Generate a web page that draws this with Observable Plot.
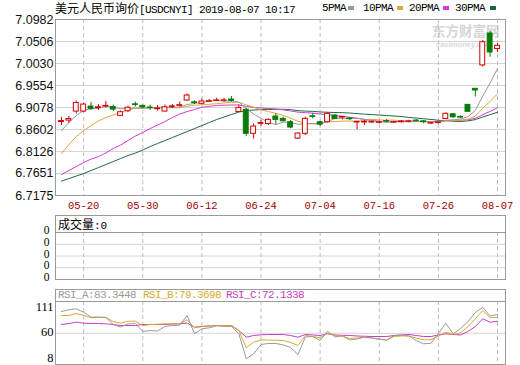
<!DOCTYPE html>
<html><head><meta charset="utf-8">
<script src="https://cdn.jsdelivr.net/npm/d3@7"></script>
<script src="https://cdn.jsdelivr.net/npm/@observablehq/plot@0.6"></script>
<style>
body{margin:0;background:#fff;}
#wrap{position:relative;width:520px;height:365px;overflow:hidden;background:#fff;}
.abs{position:absolute;white-space:nowrap;}
.mono{font-family:"Liberation Mono",monospace;font-size:10px;}
.cjk{font-family:"Noto Sans CJK SC",sans-serif;font-size:12px;}
.hdr{position:absolute;box-sizing:border-box;border:1px solid #999;background:#fff;}
svg{position:absolute;left:0;}
</style></head><body><div id="wrap"></div>
<script>
const dates = ["05-15","05-16","05-17","05-20","05-21","05-22","05-23","05-24","05-27","05-28",
"05-29","05-30","05-31","06-03","06-04","06-05","06-06","06-10","06-11","06-12",
"06-13","06-14","06-17","06-18","06-19","06-20","06-21","06-24","06-25","06-26",
"06-27","06-28","07-01","07-02","07-03","07-04","07-05","07-08","07-09","07-10",
"07-11","07-12","07-15","07-16","07-17","07-18","07-19","07-22","07-23","07-24",
"07-25","07-26","07-29","07-30","07-31","08-01","08-02","08-05","08-06","08-07"];
const open = [6.8764,6.8796,6.8991,6.8991,6.9099,6.9067,6.9099,6.9088,6.8898,6.8998,
6.9147,6.9114,6.9078,6.9041,6.8991,6.9088,6.9114,6.9229,6.9190,6.9158,
6.9203,6.9223,6.9223,6.9251,6.8980,6.9028,6.8509,6.8725,6.8721,6.8883,
6.8833,6.8760,6.8407,6.8509,6.8889,6.8760,6.8760,6.8905,6.8861,6.8840,
6.8754,6.8754,6.8754,6.8747,6.8785,6.8754,6.8764,6.8768,6.8796,6.8779,
6.8731,6.8742,6.8829,6.8932,6.8876,6.9136,6.9483,6.9989,7.0679,7.0344];
const high = [6.8861,6.8883,6.9218,6.9175,6.9192,6.9142,6.9207,6.9132,6.9002,6.9110,
6.9197,6.9132,6.9132,6.9121,6.9132,6.9142,6.9197,6.9374,6.9223,6.9261,
6.9251,6.9279,6.9279,6.9316,6.9132,6.9056,6.8725,6.8796,6.8833,6.8941,
6.8867,6.8796,6.8528,6.8867,6.8954,6.8781,6.8963,6.8915,6.8883,6.8861,
6.8775,6.8796,6.8785,6.8785,6.8818,6.8781,6.8796,6.8803,6.8818,6.8796,
6.8754,6.8775,6.8963,6.8950,6.8893,6.9142,6.9489,7.0528,7.0722,7.0463];
const low = [6.8688,6.8731,6.8937,6.8969,6.9013,6.9013,6.9067,6.8991,6.8883,6.8969,
6.9088,6.9045,6.9013,6.9002,6.8980,6.9056,6.9088,6.9207,6.9142,6.9142,
6.9186,6.9207,6.9197,6.9192,6.8976,6.8450,6.8397,6.8677,6.8688,6.8710,
6.8768,6.8617,6.8386,6.8472,6.8833,6.8667,6.8742,6.8825,6.8811,6.8796,
6.8595,6.8688,6.8731,6.8721,6.8754,6.8731,6.8742,6.8747,6.8764,6.8731,
6.8710,6.8716,6.8818,6.8840,6.8840,6.8976,6.9305,6.9952,7.0166,7.0268];
const close = [6.8785,6.8829,6.9175,6.9142,6.9049,6.9084,6.9114,6.9034,6.8976,6.9073,
6.9134,6.9082,6.9067,6.9056,6.9084,6.9103,6.9129,6.9337,6.9177,6.9207,
6.9216,6.9233,6.9233,6.9223,6.9067,6.8509,6.8667,6.8742,6.8811,6.8811,
6.8781,6.8645,6.8515,6.8833,6.8876,6.8710,6.8941,6.8833,6.8876,6.8825,
6.8768,6.8768,6.8764,6.8760,6.8775,6.8764,6.8775,6.8779,6.8785,6.8764,
6.8742,6.8754,6.8941,6.8867,6.8861,6.8985,6.9446,7.0491,7.0268,7.0413];
const ma5 = [6.8580,6.8753,6.8904,6.9013,6.9056,6.9056,6.9112,6.9084,6.9052,6.9056,
6.9067,6.9060,6.9067,6.9082,6.9084,6.9077,6.9088,6.9142,6.9166,6.9190,
6.9214,6.9233,6.9214,6.9222,6.9194,6.9054,6.8939,6.8842,6.8759,6.8708,
6.8762,6.8757,6.8716,6.8721,6.8734,6.8718,6.8779,6.8840,6.8848,6.8837,
6.8848,6.8814,6.8801,6.8777,6.8766,6.8766,6.8768,6.8770,6.8775,6.8773,
6.8768,6.8764,6.8796,6.8811,6.8831,6.8879,6.9017,6.9326,6.9610,6.9919];
const ma10 = [6.8082,6.8277,6.8450,6.8580,6.8688,6.8786,6.8861,6.8915,6.8969,6.9026,
6.9060,6.9086,6.9075,6.9067,6.9071,6.9073,6.9073,6.9104,6.9125,6.9138,
6.9147,6.9162,6.9177,6.9194,6.9192,6.9134,6.9086,6.9028,6.8991,6.8952,
6.8907,6.8848,6.8779,6.8740,6.8721,6.8740,6.8768,6.8777,6.8783,6.8786,
6.8783,6.8796,6.8820,6.8811,6.8803,6.8807,6.8790,6.8786,6.8777,6.8770,
6.8768,6.8766,6.8783,6.8794,6.8803,6.8824,6.8892,6.9062,6.9209,6.9376];
const ma20 = [6.7628,6.7715,6.7801,6.7888,6.7963,6.8017,6.8093,6.8191,6.8266,6.8364,
6.8461,6.8537,6.8623,6.8699,6.8775,6.8861,6.8937,6.8991,6.9034,6.9082,
6.9104,6.9123,6.9127,6.9132,6.9132,6.9104,6.9080,6.9067,6.9058,6.9045,
6.9028,6.9004,6.8978,6.8967,6.8956,6.8937,6.8928,6.8902,6.8887,6.8868,
6.8846,6.8822,6.8798,6.8777,6.8762,6.8775,6.8779,6.8781,6.8779,6.8777,
6.8775,6.8781,6.8801,6.8803,6.8803,6.8816,6.8842,6.8924,6.8993,6.9073];
const ma30 = [6.7487,6.7541,6.7596,6.7650,6.7715,6.7779,6.7844,6.7909,6.7974,6.8039,
6.8093,6.8158,6.8234,6.8299,6.8364,6.8428,6.8493,6.8558,6.8623,6.8688,
6.8753,6.8818,6.8872,6.8926,6.8980,6.9013,6.9023,6.9034,6.9034,6.9039,
6.9039,6.9032,6.9011,6.9000,6.8995,6.8982,6.8976,6.8969,6.8967,6.8959,
6.8946,6.8935,6.8926,6.8915,6.8905,6.8894,6.8883,6.8863,6.8850,6.8835,
6.8820,6.8803,6.8794,6.8781,6.8775,6.8790,6.8816,6.8874,6.8924,6.8976];
const rsiA = [103.6,107,109,102.2,92.2,92.6,91.6,77.5,72.5,78.9,
79.5,63.5,65.5,64.5,73.5,75.5,76.1,95.6,58.9,68.9,
70.9,74.9,73.5,73.5,58.9,8.8,18.8,37.5,39.5,39.5,
36.5,31.5,17.4,52.5,53.5,45.5,64.1,52.5,55.5,46.5,
48.5,52.1,50.5,48.5,46.5,55.5,56.5,54.5,45.5,38.9,
40.1,59.5,80.1,58.9,69.5,83.5,101.6,112.2,94.6,97.6];
const rsiB = [95.6,95.6,99.6,95.6,91,91.6,91.6,83.5,80.1,84.1,
84.1,75.5,77.5,78.1,78.9,78.9,78.9,87,70.9,73.5,
74.9,75.5,75.5,75.5,65.5,30.9,42.1,46.5,46.5,46.1,
45.5,41.5,35.5,55.5,53.5,50.9,60.1,55.5,53.5,49.5,
50.5,52.1,50.5,47.5,46.5,53.5,54.5,54.5,50.5,46.9,
46.9,54.5,62.1,57.5,60.5,73.5,89,105.6,91,92.2];
const rsiC = [77.5,79.5,82.1,80.1,79.5,79.5,78.9,77.5,75.5,75.5,
75.5,77.5,77.5,77.5,77.5,78.5,78.9,80.5,72.1,73.5,
74.5,75.5,75.5,75.5,65.5,52.1,55.5,56.9,57.5,57.5,
57.5,55.5,52.1,57.5,56.5,55.5,58.9,56.5,55.9,55.5,
54.5,53.9,53.5,53.5,53.5,55.5,56.5,57.5,55.5,53.5,
53.5,56.5,58.9,57.5,56.5,63.5,73.5,89,82.1,84.1];
const priceTicks = [7.0982,7.0506,7.0030,6.9554,6.9078,6.8602,6.8126,6.7651,6.7175];
const dateTicks = ["05-20","05-30","06-12","06-24","07-04","07-16","07-26","08-07"];
const rsiTicks = [111,60,8];
const volTicks = [0,1,2,3,4];
const volLabels = ["0","0","0","0","0"];
const titleCN = "美元人民币询价";
const titleEN = "[USDCNYI] 2019-08-07 10:17";
const maNames = ["5PMA","10PMA","20PMA","30PMA"];
const rsiHeader = ["RSI_A:83.3448","RSI_B:79.3698","RSI_C:72.1338"];

const RED = "#d60000", GREEN = "#0a7a0a";
const MA_COL = ["#999999","#e0a838","#d23cd2","#1d6a42"];
const RSI_COL = ["#9a9a9a","#d8aa30","#c63cc6"];
const GRID = "#d4d4d4", VGRID = "#bdbdbd", FRAME = "#9a9a9a";
const xDomain = [-0.81, 60.08];
const tickIdx = dateTicks.map(t => dates.indexOf(t));
const candles = dates.map((d, i) => ({i, o: open[i], h: high[i], l: low[i], c: close[i]}));
const up = d => d.c >= d.o;
const series = arr => arr.map((v, i) => ({i, v}));
const svgStyle = {background: "transparent", overflow: "visible"};

const wrap = document.getElementById("wrap");

// watermark
const wm = document.createElement("div");
wm.className = "abs";
wm.style.cssText = "left:432px;top:23px;color:#d6d6d6;font-family:'Noto Sans CJK SC';font-weight:bold;font-size:13.5px;line-height:14px;";
wm.textContent = "东方财富网";
wrap.appendChild(wm);
const wm2 = document.createElement("div");
wm2.className = "abs";
wm2.style.cssText = "left:436px;top:41px;color:#d8d8d8;font-family:'Liberation Sans';font-weight:bold;font-style:italic;font-size:7.5px;line-height:8px;";
wm2.textContent = "eastmoney.com";
wrap.appendChild(wm2);

const main = Plot.plot({
  width: 520, height: 212, marginLeft: 55, marginRight: 15, marginTop: 19, marginBottom: 17,
  style: svgStyle,
  x: {type: "linear", domain: xDomain},
  y: {domain: [6.7175, 7.0982]},
  color: {type: "identity"},
  marks: [
    Plot.gridY(priceTicks, {stroke: GRID, strokeOpacity: 1}),
    Plot.gridX(tickIdx, {stroke: VGRID, strokeOpacity: 1, strokeDasharray: "4,3"}),
    Plot.axisY(priceTicks, {tickSize: 0, tickPadding: 2, tickFormat: d => d.toFixed(4), fontSize: 12.5, fontFamily: "Liberation Sans", fill: "#111", label: null}),
    Plot.axisX(tickIdx, {tickSize: 0, tickPadding: 6, tickFormat: i => dates[i], fill: "#a00000", fontSize: 10.5, fontFamily: "Liberation Mono", label: null}),
    Plot.line(series(ma30), {x: "i", y: "v", stroke: MA_COL[3], strokeWidth: 1}),
    Plot.line(series(ma20), {x: "i", y: "v", stroke: MA_COL[2], strokeWidth: 1}),
    Plot.line(series(ma10), {x: "i", y: "v", stroke: MA_COL[1], strokeWidth: 1}),
    Plot.line(series(ma5), {x: "i", y: "v", stroke: MA_COL[0], strokeWidth: 1}),
    Plot.ruleX(candles, {x: "i", y1: "l", y2: "h", stroke: d => up(d) ? RED : GREEN}),
    Plot.rect(candles, {x1: d => d.i - 0.33, x2: d => d.i + 0.33, y1: "o", y2: "c",
      fill: d => up(d) ? "#ffffff" : GREEN, stroke: d => up(d) ? RED : GREEN}),
    Plot.frame({stroke: FRAME})
  ]
});
main.style.top = "0px";
wrap.appendChild(main);

const vol = Plot.plot({
  width: 520, height: 59, marginLeft: 55, marginRight: 15, marginTop: 11, marginBottom: 1,
  style: svgStyle,
  x: {type: "linear", domain: xDomain, axis: null},
  y: {domain: [0, 4]},
  marks: [
    Plot.gridY([1, 2, 3], {stroke: GRID, strokeOpacity: 1}),
    Plot.gridX(tickIdx, {stroke: VGRID, strokeOpacity: 1, strokeDasharray: "4,3"}),
    Plot.axisY(volTicks, {tickSize: 0, tickPadding: 6, tickFormat: (d, k) => volLabels[k], dy: -2, fontSize: 11.5, fontFamily: "Liberation Serif", fill: "#000", label: null}),
    Plot.frame({stroke: FRAME})
  ]
});
vol.style.top = "221px";
wrap.appendChild(vol);

const rsi = Plot.plot({
  width: 520, height: 75, marginLeft: 55, marginRight: 15, marginTop: 11, marginBottom: 1,
  style: svgStyle,
  x: {type: "linear", domain: xDomain, axis: null},
  y: {domain: [8, 111], range: [68.7, 17.3]},
  marks: [
    Plot.gridY([60], {stroke: GRID, strokeOpacity: 1}),
    Plot.gridX(tickIdx, {stroke: VGRID, strokeOpacity: 1, strokeDasharray: "4,3"}),
    Plot.axisY(rsiTicks, {tickSize: 0, tickPadding: 2, dy: -1, fontSize: 12.5, fontFamily: "Liberation Serif", fill: "#000", label: null}),
    Plot.line(series(rsiC), {x: "i", y: "v", stroke: RSI_COL[2], strokeWidth: 1, clip: true}),
    Plot.line(series(rsiB), {x: "i", y: "v", stroke: RSI_COL[1], strokeWidth: 1, clip: true}),
    Plot.line(series(rsiA), {x: "i", y: "v", stroke: RSI_COL[0], strokeWidth: 1, clip: true}),
    Plot.frame({stroke: FRAME})
  ]
});
rsi.style.top = "290px";
wrap.appendChild(rsi);

// title
const title = document.createElement("div");
title.className = "abs";
title.style.cssText = "left:55px;top:1px;line-height:14px;color:#000;";
title.innerHTML = `<span class="cjk">${titleCN}</span><span class="mono" style="font-size:11px;letter-spacing:-0.6px;">${titleEN}</span>`;
wrap.appendChild(title);

// legend
const legX = [322, 363, 409, 455], barX = [348, 397, 443, 490];
maNames.forEach((n, k) => {
  const t = document.createElement("div");
  t.className = "abs mono";
  t.style.cssText = `left:${legX[k]}px;top:1px;line-height:14px;font-size:11px;letter-spacing:-0.6px;color:#000;`;
  t.textContent = n;
  wrap.appendChild(t);
  const b = document.createElement("div");
  b.className = "abs";
  b.style.cssText = `left:${barX[k]}px;top:6px;width:6px;height:4px;background:${MA_COL[k]};`;
  wrap.appendChild(b);
});

// volume header
const vh = document.createElement("div");
vh.className = "hdr";
vh.style.cssText += "left:55px;top:215px;width:451px;height:18px;";
vh.innerHTML = `<span class="abs" style="left:2px;top:0px;line-height:16px;"><span class="cjk">成交量</span><span class="mono" style="font-size:11px;">:0</span></span>`;
wrap.appendChild(vh);

// rsi header
const rh = document.createElement("div");
rh.className = "hdr";
rh.style.cssText += "left:55px;top:289px;width:451px;height:13px;";
const rx = [2, 87, 170];
rh.innerHTML = rsiHeader.map((s, k) => `<span class="abs mono" style="left:${rx[k]}px;top:0px;line-height:11px;font-size:11px;letter-spacing:-0.6px;color:${RSI_COL[k]};">${s}</span>`).join("");
wrap.appendChild(rh);
</script>
</body></html>
